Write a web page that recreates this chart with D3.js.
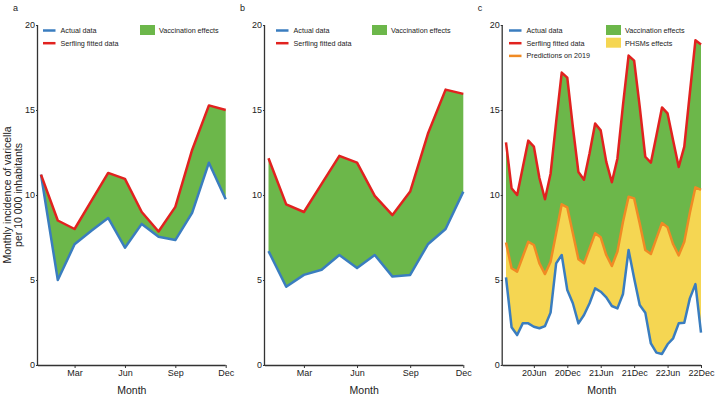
<!DOCTYPE html>
<html>
<head>
<meta charset="utf-8">
<script src="https://cdn.jsdelivr.net/npm/d3@7"></script>
<style>
  body { margin: 0; background: #fff; }
  svg { font-family: "Liberation Sans", Arial, sans-serif; }
  .axis path, .axis line { stroke: #333; }
  .axis text { fill: #222; font-size: 9px; }
</style>
</head>
<body>
<div id="chart-area"></div>
<script>

// months for panels a and b, and 2020-2022 for panel c
let monthsYear = ["Jan","Feb","Mar","Apr","May","Jun","Jul","Aug","Sep","Oct","Nov","Dec"];
let monthsC = d3.range(36);

// a
let actualA = [11.2, 5.0, 7.1, 7.9, 8.65, 6.9, 8.3, 7.55, 7.35, 8.95, 11.9, 9.75];
let serflingA = [11.2, 8.5, 8.0, 9.65, 11.3, 10.95, 9.0, 7.85, 9.3, 12.65, 15.27, 15.0];

// b
let actualB = [6.7, 4.6, 5.3, 5.6, 6.47, 5.7, 6.47, 5.2, 5.3, 7.1, 8.0, 10.2];
let serflingB = [12.16, 9.45, 9.0, 10.65, 12.3, 11.9, 9.95, 8.82, 10.2, 13.6, 16.2, 15.95];

// c
let actualC = [5.16, 2.22, 1.76, 2.45, 2.45, 2.25, 2.16, 2.29, 3.08, 5.98, 6.47, 4.41,
               3.63, 2.45, 2.94, 3.63, 4.51, 4.31, 3.98, 3.47, 3.33, 4.18, 6.76, 5.1,
               3.53, 3.08, 1.27, 0.73, 0.65, 1.22, 1.57, 2.45, 2.49, 3.92, 4.76, 1.9];
let predC = [7.2, 5.69, 5.49, 6.37, 7.25, 7.06, 5.98, 5.35, 6.08, 7.75, 9.45, 9.27,
             7.75, 6.22, 5.98, 6.86, 7.75, 7.51, 6.47, 5.82, 6.67, 8.43, 9.9, 9.8,
             8.33, 6.76, 6.53, 7.45, 8.35, 8.1, 7.1, 6.45, 7.25, 8.95, 10.45, 10.3];
let serflingC = [13.1, 10.4, 10.0, 11.6, 13.2, 12.85, 11.0, 9.75, 11.25, 14.3, 17.2, 16.9,
                 14.0, 11.35, 10.9, 12.45, 14.2, 13.8, 11.95, 10.75, 12.15, 15.3, 18.2, 17.9,
                 15.2, 12.25, 11.9, 13.5, 15.15, 14.8, 13.2, 11.65, 12.85, 16.0, 19.1, 18.85];

let tickIdxAB = [2, 5, 8, 11];
let tickLabelsAB = ["Mar", "Jun", "Sep", "Dec"];
let tickIdxC = [5, 11, 17, 23, 29, 35];
let tickLabelsC = ["20Jun", "20Dec", "21Jun", "21Dec", "22Jun", "22Dec"];
let yTicks = [0, 5, 10, 15, 20];

let colors = {
	actual: "#3a7dbf",
	serfling: "#e1221f",
	pred: "#f08a24",
	vacc: "#6cb74a",
	phsm: "#f5d652"
};

let svg = d3.select("#chart-area").append("svg")
	.attr("width", 719)
	.attr("height", 399);

let yScale = d3.scaleLinear().domain([0, 20]).range([365, 25]);

let panels = [
	{label: "a", axisX: 38, x0: 41, x1: 225.7, actual: actualA, serfling: serflingA, pred: null,
	 ticks: tickIdxAB, tickLabels: tickLabelsAB, legendX: 43, swatchX: 140},
	{label: "b", axisX: 265, x0: 268.5, x1: 463.3, actual: actualB, serfling: serflingB, pred: null,
	 ticks: tickIdxAB, tickLabels: tickLabelsAB, legendX: 276, swatchX: 372},
	{label: "c", axisX: 502.7, x0: 506, x1: 701, actual: actualC, serfling: serflingC, pred: predC,
	 ticks: tickIdxC, tickLabels: tickLabelsC, legendX: 509, swatchX: 606}
];

panels.forEach(p => drawPanel(p));

// shared y-axis title
svg.append("text")
	.attr("transform", "translate(11,195) rotate(-90)")
	.attr("text-anchor", "middle")
	.style("font-size", "10.5px")
	.style("fill", "#222")
	.text("Monthly incidence of varicella");
svg.append("text")
	.attr("transform", "translate(22,195) rotate(-90)")
	.attr("text-anchor", "middle")
	.style("font-size", "10.5px")
	.style("fill", "#222")
	.text("per 10 000 inhabitants");

function drawPanel(p) {
	let n = p.actual.length;
	let xScale = d3.scaleLinear().domain([0, n - 1]).range([p.x0, p.x1]);
	let g = svg.append("g");

	let line = d3.line().x((d, i) => xScale(i)).y(d => yScale(d));

	let lower = p.pred ? p.pred : p.actual;

	// vaccination effects: between serfling and (prediction or actual)
	g.append("path")
		.datum(p.serfling)
		.attr("fill", colors.vacc)
		.attr("d", d3.area()
			.x((d, i) => xScale(i))
			.y0((d, i) => yScale(lower[i]))
			.y1(d => yScale(d)));

	// PHSMs effects
	if (p.pred) {
		g.append("path")
			.datum(p.pred)
			.attr("fill", colors.phsm)
			.attr("d", d3.area()
				.x((d, i) => xScale(i))
				.y0((d, i) => yScale(p.actual[i]))
				.y1(d => yScale(d)));
	}

	g.append("path").datum(p.actual)
		.attr("fill", "none").attr("stroke", colors.actual).attr("stroke-width", 2.5)
		.attr("stroke-linejoin", "round")
		.attr("d", line);

	if (p.pred) {
		g.append("path").datum(p.pred)
			.attr("fill", "none").attr("stroke", colors.pred).attr("stroke-width", 2.5)
			.attr("stroke-linejoin", "round")
			.attr("d", line);
	}

	g.append("path").datum(p.serfling)
		.attr("fill", "none").attr("stroke", colors.serfling).attr("stroke-width", 2.5)
		.attr("stroke-linejoin", "round")
		.attr("d", line);

	// axes
	let yAxis = d3.axisLeft(yScale).tickValues(yTicks).tickSize(2).tickPadding(1);
	g.append("g")
		.attr("class", "axis")
		.attr("transform", "translate(" + p.axisX + ",0)")
		.call(yAxis)
		.call(s => s.select(".domain").attr("d", "M-0.5,25V365.5").attr("stroke-width", 1.3));

	let xAxis = d3.axisBottom(xScale).tickValues(p.ticks)
		.tickFormat((d, i) => p.tickLabels[i]).tickSize(3).tickPadding(2);
	g.append("g")
		.attr("class", "axis")
		.attr("transform", "translate(0,365)")
		.call(xAxis)
		.call(s => s.select(".domain").attr("d", "M" + p.axisX + ",0.5H" + p.x1).attr("stroke-width", 1.3));

	g.append("text")
		.attr("x", (p.axisX + p.x1) / 2)
		.attr("y", 394)
		.attr("text-anchor", "middle")
		.style("font-size", "10.5px")
		.style("fill", "#222")
		.text("Month");

	g.append("text")
		.attr("x", p.axisX - 25)
		.attr("y", 11)
		.style("font-size", "9px")
		.style("fill", "#222")
		.text(p.label);

	// legend
	let lineItems = [["Actual data", colors.actual], ["Serfling fitted data", colors.serfling]];
	if (p.pred) lineItems.push(["Predictions on 2019", colors.pred]);
	let boxItems = [["Vaccination effects", colors.vacc]];
	if (p.pred) boxItems.push(["PHSMs effects", colors.phsm]);

	lineItems.forEach((it, i) => {
		let y = 30.5 + i * 12.7;
		g.append("line")
			.attr("x1", p.legendX).attr("x2", p.legendX + 12.5)
			.attr("y1", y).attr("y2", y)
			.attr("stroke", it[1]).attr("stroke-width", 2.5);
		g.append("text")
			.attr("x", p.legendX + 17.5).attr("y", y + 2.5)
			.style("font-size", "7.2px").style("fill", "#222")
			.text(it[0]);
	});
	boxItems.forEach((it, i) => {
		let y = 25 + i * 12.7;
		g.append("rect")
			.attr("x", p.swatchX).attr("y", y)
			.attr("width", 15).attr("height", 10)
			.attr("fill", it[1]);
		g.append("text")
			.attr("x", p.swatchX + 19).attr("y", y + 7.8)
			.style("font-size", "7.2px").style("fill", "#222")
			.text(it[0]);
	});
}

</script>
</body>
</html>
